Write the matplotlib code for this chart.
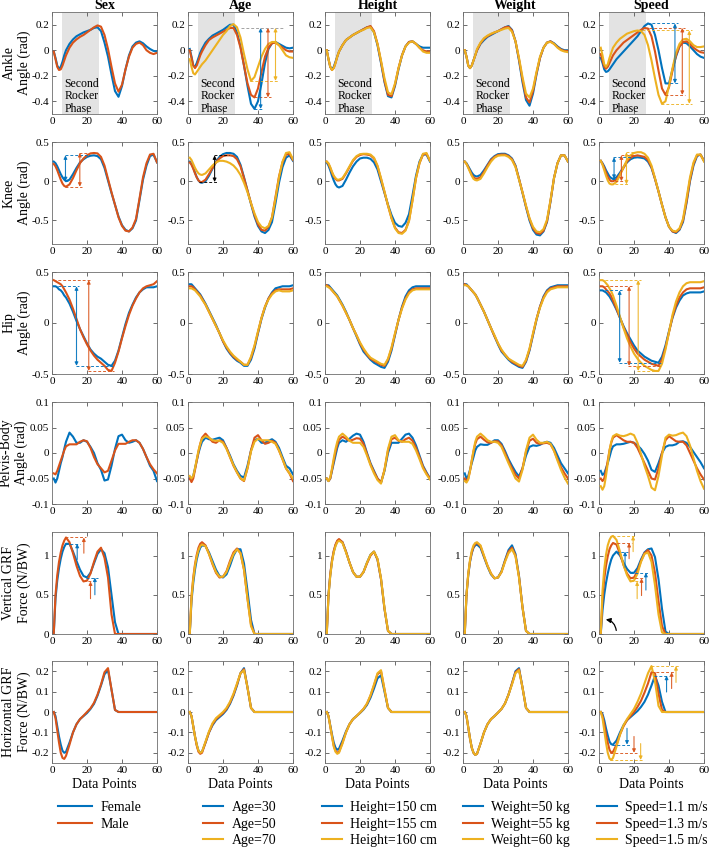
"""
Gait curves (ankle, knee, hip, pelvis angles and ground reaction forces)
grouped by sex, age, height, weight and walking speed.
Writes out.png.
"""

import numpy as np
import matplotlib
matplotlib.use("Agg")
import matplotlib.pyplot as plt
from matplotlib.patches import FancyArrowPatch
from matplotlib.ticker import FuncFormatter

plt.rcParams["font.family"] = ["Liberation Serif", "DejaVu Serif"]
plt.rcParams["axes.unicode_minus"] = False

# sample positions along the gait cycle (data points)
XS = [1, 2, 3, 4, 5, 6, 7, 8,
      10, 12, 14, 16, 18, 20, 22, 24,
      26, 28, 30, 32, 34, 36, 38, 40,
      42, 44, 46, 48, 50, 52, 54, 56, 58, 60]

TITLES = ["Sex", "Age", "Height", "Weight", "Speed"]
GROUP_LABELS = [
    ["Female", "Male"],
    ["Age=30", "Age=50", "Age=70"],
    ["Height=150 cm", "Height=155 cm", "Height=160 cm"],
    ["Weight=50 kg", "Weight=55 kg", "Weight=60 kg"],
    ["Speed=1.1 m/s", "Speed=1.3 m/s", "Speed=1.5 m/s"],
]
ROW_LABELS = ["Ankle\nAngle (rad)", "Knee\nAngle (rad)", "Hip\nAngle (rad)",
              "Pelvis-Body\nAngle (rad)", "Vertical GRF\nForce (N/BW)",
              "Horizontal GRF\nForce (N/BW)"]
ROW_YLIM = [(-0.5, 0.3), (-0.8, 0.5), (-0.5, 0.5), (-0.1, 0.1), (0, 1.3), (-0.25, 0.25)]
ROW_YTICKS = [[-0.4, -0.2, 0, 0.2], [-0.5, 0, 0.5], [-0.5, 0, 0.5],
              [-0.1, -0.05, 0, 0.05, 0.1], [0, 0.5, 1], [-0.2, -0.1, 0, 0.1, 0.2]]

# ---- ankle angle (rad)
ANKLE_SEX = [
    [-0.01, -0.06, -0.12, -0.145, -0.13, -0.09, -0.04, 0.0,
     0.05, 0.085, 0.11, 0.125, 0.14, 0.15, 0.16, 0.175,
     0.18, 0.15, 0.06, -0.05, -0.19, -0.32, -0.365, -0.28,
     -0.15, -0.04, 0.03, 0.06, 0.07, 0.055, 0.03, 0.01, -0.005, -0.01],
    [-0.01, -0.07, -0.13, -0.155, -0.15, -0.12, -0.08, -0.04,
     0.02, 0.06, 0.085, 0.105, 0.12, 0.14, 0.16, 0.18,
     0.195, 0.185, 0.12, 0.01, -0.13, -0.26, -0.325, -0.27,
     -0.15, -0.05, 0.02, 0.05, 0.06, 0.04, 0.0, -0.02, -0.03, -0.02],
]
ANKLE_AGE = [
    [0.01, -0.05, -0.12, -0.13, -0.1, -0.06, -0.02, 0.01,
     0.06, 0.09, 0.115, 0.13, 0.145, 0.16, 0.18, 0.2,
     0.2, 0.14, 0.03, -0.12, -0.28, -0.42, -0.46, -0.4,
     -0.26, -0.1, 0.01, 0.055, 0.065, 0.05, 0.035, 0.02, 0.015, 0.02],
    [0.0, -0.06, -0.12, -0.14, -0.12, -0.08, -0.04, -0.01,
     0.04, 0.08, 0.1, 0.115, 0.13, 0.145, 0.16, 0.175,
     0.175, 0.12, 0.02, -0.12, -0.26, -0.35, -0.37, -0.3,
     -0.17, -0.05, 0.02, 0.055, 0.06, 0.04, 0.02, 0.0, -0.01, -0.01],
    [-0.07, -0.13, -0.18, -0.19, -0.17, -0.15, -0.13, -0.11,
     -0.08, -0.04, 0.0, 0.04, 0.08, 0.12, 0.15, 0.19,
     0.205, 0.18, 0.1, -0.03, -0.15, -0.24, -0.21, -0.13,
     -0.05, 0.01, 0.05, 0.065, 0.065, 0.04, 0.0, -0.04, -0.055, -0.06],
]
ANKLE_HEIGHT = [
    [0.0, -0.07, -0.13, -0.15, -0.13, -0.09, -0.05, -0.01,
     0.04, 0.08, 0.1, 0.12, 0.135, 0.15, 0.165, 0.18,
     0.185, 0.14, 0.04, -0.1, -0.25, -0.36, -0.37, -0.28,
     -0.15, -0.04, 0.03, 0.065, 0.07, 0.05, 0.03, 0.02, 0.02, 0.02],
    [0.0, -0.07, -0.13, -0.155, -0.14, -0.1, -0.05, -0.01,
     0.04, 0.08, 0.1, 0.12, 0.135, 0.15, 0.165, 0.18,
     0.19, 0.15, 0.05, -0.09, -0.24, -0.35, -0.36, -0.27,
     -0.14, -0.04, 0.03, 0.065, 0.07, 0.05, 0.02, 0.0, -0.01, -0.01],
    [0.0, -0.07, -0.13, -0.155, -0.14, -0.1, -0.05, -0.01,
     0.04, 0.08, 0.1, 0.12, 0.135, 0.15, 0.16, 0.175,
     0.18, 0.14, 0.05, -0.08, -0.22, -0.33, -0.345, -0.26,
     -0.14, -0.04, 0.03, 0.06, 0.07, 0.05, 0.02, -0.01, -0.02, -0.02],
]
ANKLE_WEIGHT = [
    [0.0, -0.05, -0.12, -0.14, -0.12, -0.08, -0.04, 0.0,
     0.05, 0.08, 0.105, 0.12, 0.135, 0.15, 0.165, 0.18,
     0.19, 0.16, 0.07, -0.08, -0.25, -0.39, -0.435, -0.34,
     -0.19, -0.06, 0.02, 0.06, 0.07, 0.055, 0.03, 0.01, 0.0, 0.0],
    [0.0, -0.05, -0.12, -0.14, -0.12, -0.08, -0.04, 0.0,
     0.055, 0.09, 0.11, 0.125, 0.14, 0.15, 0.165, 0.18,
     0.185, 0.155, 0.07, -0.07, -0.23, -0.37, -0.41, -0.32,
     -0.18, -0.06, 0.02, 0.06, 0.07, 0.05, 0.025, 0.005, -0.005, -0.005],
    [0.0, -0.05, -0.12, -0.14, -0.12, -0.08, -0.04, 0.01,
     0.06, 0.095, 0.115, 0.13, 0.14, 0.15, 0.16, 0.17,
     0.175, 0.145, 0.07, -0.06, -0.21, -0.34, -0.37, -0.3,
     -0.17, -0.05, 0.02, 0.06, 0.065, 0.05, 0.02, 0.0, -0.01, -0.015],
]
ANKLE_SPEED = [
    [-0.06, -0.1, -0.15, -0.17, -0.165, -0.15, -0.13, -0.11,
     -0.07, -0.04, -0.01, 0.02, 0.05, 0.08, 0.11, 0.15,
     0.19, 0.21, 0.2, 0.12, 0.0, -0.14, -0.26, -0.26,
     -0.15, -0.05, 0.03, 0.06, 0.055, 0.03, 0.0, -0.03, -0.05, -0.06],
    [-0.03, -0.08, -0.13, -0.145, -0.13, -0.1, -0.07, -0.04,
     0.0, 0.03, 0.06, 0.08, 0.1, 0.12, 0.14, 0.16,
     0.175, 0.17, 0.11, -0.01, -0.16, -0.3, -0.35, -0.29,
     -0.16, -0.04, 0.03, 0.065, 0.07, 0.05, 0.02, 0.0, -0.015, -0.02],
    [0.02, -0.04, -0.11, -0.13, -0.11, -0.06, -0.02, 0.02,
     0.06, 0.09, 0.11, 0.13, 0.14, 0.15, 0.155, 0.15,
     0.12, 0.04, -0.08, -0.22, -0.35, -0.42, -0.4, -0.28,
     -0.14, -0.02, 0.05, 0.085, 0.09, 0.07, 0.04, 0.025, 0.025, 0.03],
]

# ---- knee angle (rad)
KNEE_SEX = [
    [0.25, 0.23, 0.19, 0.14, 0.09, 0.05, 0.02, 0.0,
     0.02, 0.09, 0.17, 0.24, 0.28, 0.31, 0.325, 0.33,
     0.32, 0.28, 0.17, 0.01, -0.15, -0.3, -0.45, -0.56,
     -0.62, -0.64, -0.6, -0.5, -0.24, 0.02, 0.2, 0.32, 0.34, 0.24],
    [0.22, 0.19, 0.14, 0.08, 0.02, -0.03, -0.06, -0.07,
     -0.04, 0.04, 0.14, 0.23, 0.29, 0.33, 0.355, 0.36,
     0.355, 0.31, 0.2, 0.03, -0.14, -0.3, -0.46, -0.57,
     -0.63, -0.64, -0.59, -0.48, -0.22, 0.05, 0.23, 0.34, 0.35, 0.24],
]
KNEE_AGE = [
    [0.25, 0.22, 0.17, 0.11, 0.05, 0.01, -0.015, -0.02,
     0.0, 0.07, 0.16, 0.25, 0.31, 0.345, 0.36, 0.36,
     0.35, 0.31, 0.21, 0.05, -0.12, -0.29, -0.45, -0.57,
     -0.64, -0.66, -0.62, -0.52, -0.28, -0.02, 0.18, 0.3, 0.33, 0.26],
    [0.24, 0.21, 0.16, 0.1, 0.05, 0.01, -0.01, -0.01,
     0.02, 0.09, 0.17, 0.24, 0.29, 0.32, 0.33, 0.33,
     0.32, 0.28, 0.19, 0.04, -0.12, -0.28, -0.43, -0.55,
     -0.62, -0.63, -0.58, -0.46, -0.2, 0.06, 0.24, 0.34, 0.35, 0.27],
    [0.3, 0.27, 0.22, 0.17, 0.13, 0.1, 0.085, 0.08,
     0.1, 0.15, 0.2, 0.24, 0.26, 0.26, 0.25, 0.23,
     0.2, 0.15, 0.08, -0.02, -0.14, -0.28, -0.41, -0.52,
     -0.58, -0.6, -0.57, -0.46, -0.22, 0.05, 0.25, 0.36, 0.37, 0.28],
]
KNEE_HEIGHT = [
    [0.24, 0.2, 0.14, 0.07, 0.01, -0.04, -0.07, -0.08,
     -0.06, 0.02, 0.11, 0.19, 0.25, 0.29, 0.3, 0.3,
     0.285, 0.24, 0.15, 0.0, -0.15, -0.3, -0.43, -0.53,
     -0.57, -0.58, -0.53, -0.42, -0.18, 0.07, 0.25, 0.34, 0.34, 0.25],
    [0.25, 0.22, 0.17, 0.11, 0.06, 0.03, 0.01, 0.01,
     0.03, 0.1, 0.18, 0.26, 0.31, 0.335, 0.345, 0.34,
     0.33, 0.29, 0.19, 0.03, -0.14, -0.31, -0.47, -0.59,
     -0.65, -0.66, -0.62, -0.5, -0.24, 0.04, 0.23, 0.34, 0.35, 0.26],
    [0.25, 0.23, 0.18, 0.12, 0.07, 0.04, 0.02, 0.02,
     0.04, 0.11, 0.19, 0.27, 0.32, 0.345, 0.35, 0.35,
     0.34, 0.3, 0.2, 0.04, -0.13, -0.31, -0.47, -0.6,
     -0.66, -0.67, -0.63, -0.51, -0.25, 0.04, 0.23, 0.35, 0.36, 0.26],
]
KNEE_WEIGHT = [
    [0.25, 0.23, 0.19, 0.15, 0.11, 0.08, 0.065, 0.06,
     0.08, 0.14, 0.21, 0.28, 0.32, 0.345, 0.35, 0.35,
     0.33, 0.29, 0.2, 0.03, -0.15, -0.33, -0.5, -0.62,
     -0.68, -0.69, -0.64, -0.52, -0.26, 0.04, 0.23, 0.33, 0.33, 0.25],
    [0.25, 0.22, 0.18, 0.13, 0.08, 0.05, 0.035, 0.03,
     0.05, 0.12, 0.2, 0.27, 0.31, 0.335, 0.34, 0.34,
     0.32, 0.28, 0.19, 0.03, -0.14, -0.32, -0.48, -0.6,
     -0.66, -0.67, -0.63, -0.51, -0.25, 0.04, 0.23, 0.33, 0.33, 0.25],
    [0.25, 0.22, 0.17, 0.12, 0.07, 0.03, 0.015, 0.01,
     0.03, 0.1, 0.18, 0.25, 0.3, 0.325, 0.33, 0.33,
     0.31, 0.27, 0.18, 0.02, -0.14, -0.31, -0.47, -0.58,
     -0.64, -0.65, -0.61, -0.49, -0.24, 0.04, 0.23, 0.33, 0.33, 0.25],
]
KNEE_SPEED = [
    [0.26, 0.23, 0.19, 0.14, 0.1, 0.06, 0.04, 0.03,
     0.05, 0.11, 0.18, 0.24, 0.28, 0.3, 0.305, 0.3,
     0.29, 0.25, 0.17, 0.03, -0.13, -0.3, -0.46, -0.58,
     -0.64, -0.66, -0.62, -0.52, -0.28, 0.0, 0.2, 0.32, 0.34, 0.26],
    [0.26, 0.22, 0.17, 0.11, 0.06, 0.02, 0.0, 0.0,
     0.02, 0.09, 0.17, 0.25, 0.3, 0.32, 0.33, 0.32,
     0.31, 0.27, 0.18, 0.03, -0.13, -0.3, -0.46, -0.58,
     -0.64, -0.65, -0.61, -0.5, -0.26, 0.02, 0.22, 0.33, 0.34, 0.26],
    [0.26, 0.21, 0.14, 0.07, 0.01, -0.03, -0.04, -0.04,
     -0.01, 0.08, 0.18, 0.27, 0.33, 0.36, 0.37, 0.37,
     0.35, 0.3, 0.2, 0.04, -0.13, -0.3, -0.46, -0.58,
     -0.63, -0.64, -0.6, -0.48, -0.22, 0.05, 0.24, 0.34, 0.34, 0.25],
]

# ---- hip angle (rad)
HIP_SEX = [
    [0.36, 0.36, 0.35, 0.33, 0.32, 0.3, 0.27, 0.25,
     0.19, 0.11, 0.02, -0.06, -0.13, -0.2, -0.26, -0.3,
     -0.33, -0.35, -0.38, -0.41, -0.42, -0.37, -0.27, -0.14,
     -0.01, 0.1, 0.18, 0.25, 0.3, 0.33, 0.35, 0.35, 0.35, 0.36],
    [0.42, 0.41, 0.4, 0.39, 0.38, 0.36, 0.33, 0.3,
     0.23, 0.14, 0.04, -0.06, -0.14, -0.21, -0.27, -0.32,
     -0.36, -0.39, -0.42, -0.46, -0.47, -0.39, -0.28, -0.15,
     -0.03, 0.08, 0.17, 0.24, 0.3, 0.34, 0.36, 0.37, 0.38, 0.41],
]
HIP_AGE = [
    [0.38, 0.38, 0.36, 0.34, 0.32, 0.3, 0.28, 0.25,
     0.19, 0.12, 0.05, -0.02, -0.1, -0.18, -0.25, -0.3,
     -0.34, -0.37, -0.39, -0.42, -0.42, -0.36, -0.25, -0.1,
     0.04, 0.15, 0.24, 0.3, 0.34, 0.35, 0.36, 0.36, 0.36, 0.37],
    [0.36, 0.36, 0.35, 0.33, 0.31, 0.29, 0.27, 0.24,
     0.18, 0.11, 0.04, -0.03, -0.1, -0.18, -0.24, -0.29,
     -0.33, -0.36, -0.38, -0.41, -0.41, -0.34, -0.23, -0.09,
     0.05, 0.16, 0.24, 0.29, 0.32, 0.33, 0.33, 0.33, 0.33, 0.34],
    [0.34, 0.34, 0.33, 0.32, 0.3, 0.28, 0.26, 0.23,
     0.18, 0.11, 0.04, -0.03, -0.1, -0.17, -0.23, -0.28,
     -0.32, -0.35, -0.38, -0.41, -0.41, -0.33, -0.22, -0.08,
     0.05, 0.16, 0.23, 0.28, 0.31, 0.32, 0.31, 0.31, 0.31, 0.32],
]
HIP_HEIGHT = [
    [0.37, 0.37, 0.35, 0.33, 0.31, 0.29, 0.27, 0.24,
     0.18, 0.11, 0.03, -0.05, -0.13, -0.21, -0.28, -0.32,
     -0.36, -0.39, -0.41, -0.43, -0.44, -0.38, -0.27, -0.12,
     0.03, 0.16, 0.26, 0.32, 0.35, 0.36, 0.36, 0.36, 0.36, 0.36],
    [0.37, 0.36, 0.34, 0.32, 0.3, 0.28, 0.26, 0.23,
     0.17, 0.1, 0.03, -0.05, -0.12, -0.2, -0.26, -0.31,
     -0.35, -0.37, -0.39, -0.41, -0.42, -0.36, -0.25, -0.11,
     0.03, 0.15, 0.24, 0.3, 0.33, 0.34, 0.34, 0.34, 0.34, 0.34],
    [0.36, 0.35, 0.34, 0.32, 0.3, 0.28, 0.26, 0.23,
     0.17, 0.1, 0.03, -0.05, -0.12, -0.19, -0.25, -0.3,
     -0.34, -0.36, -0.38, -0.4, -0.41, -0.35, -0.24, -0.1,
     0.03, 0.14, 0.23, 0.29, 0.32, 0.33, 0.33, 0.33, 0.33, 0.33],
]
HIP_WEIGHT = [
    [0.38, 0.38, 0.36, 0.34, 0.32, 0.3, 0.28, 0.25,
     0.18, 0.11, 0.03, -0.05, -0.13, -0.21, -0.28, -0.32,
     -0.36, -0.39, -0.41, -0.43, -0.44, -0.38, -0.27, -0.12,
     0.03, 0.16, 0.26, 0.32, 0.35, 0.36, 0.37, 0.37, 0.37, 0.37],
    [0.38, 0.37, 0.36, 0.34, 0.32, 0.3, 0.28, 0.25,
     0.18, 0.11, 0.03, -0.05, -0.13, -0.2, -0.27, -0.31,
     -0.35, -0.38, -0.4, -0.42, -0.43, -0.37, -0.26, -0.11,
     0.04, 0.16, 0.25, 0.31, 0.34, 0.35, 0.36, 0.36, 0.36, 0.36],
    [0.37, 0.37, 0.36, 0.34, 0.32, 0.3, 0.28, 0.25,
     0.18, 0.11, 0.03, -0.05, -0.12, -0.2, -0.26, -0.31,
     -0.35, -0.37, -0.39, -0.41, -0.42, -0.36, -0.25, -0.1,
     0.04, 0.15, 0.24, 0.3, 0.33, 0.34, 0.35, 0.35, 0.35, 0.35],
]
HIP_SPEED = [
    [0.32, 0.32, 0.31, 0.3, 0.28, 0.26, 0.23, 0.2,
     0.13, 0.05, -0.03, -0.1, -0.16, -0.22, -0.27, -0.3,
     -0.33, -0.35, -0.37, -0.38, -0.39, -0.33, -0.22, -0.08,
     0.05, 0.15, 0.22, 0.27, 0.29, 0.3, 0.3, 0.3, 0.3, 0.31],
    [0.36, 0.36, 0.35, 0.33, 0.31, 0.29, 0.26, 0.22,
     0.14, 0.05, -0.04, -0.12, -0.19, -0.25, -0.3, -0.33,
     -0.36, -0.38, -0.4, -0.41, -0.42, -0.36, -0.24, -0.09,
     0.06, 0.17, 0.25, 0.3, 0.33, 0.34, 0.34, 0.34, 0.34, 0.35],
    [0.42, 0.42, 0.41, 0.39, 0.37, 0.34, 0.31, 0.27,
     0.17, 0.06, -0.05, -0.15, -0.23, -0.3, -0.35, -0.39,
     -0.42, -0.44, -0.46, -0.47, -0.47, -0.4, -0.26, -0.09,
     0.08, 0.21, 0.3, 0.36, 0.39, 0.4, 0.4, 0.4, 0.4, 0.41],
]

# ---- pelvis-body angle (rad)
PELVIS_SEX = [
    [-0.05, -0.058, -0.05, -0.035, -0.02, -0.008, 0.008, 0.022,
     0.04, 0.032, 0.02, 0.02, 0.025, 0.022, 0.012, 0.0,
     -0.02, -0.033, -0.054, -0.052, -0.025, 0.008, 0.033, 0.036,
     0.025, 0.02, 0.022, 0.025, 0.02, 0.008, -0.008, -0.025, -0.035, -0.055],
    [-0.04, -0.042, -0.035, -0.025, -0.015, -0.005, 0.005, 0.013,
     0.017, 0.017, 0.017, 0.022, 0.025, 0.023, 0.01, -0.008,
     -0.022, -0.03, -0.038, -0.035, -0.015, 0.005, 0.018, 0.018,
     0.018, 0.022, 0.025, 0.025, 0.02, 0.008, -0.008, -0.022, -0.032, -0.04],
]
PELVIS_AGE = [
    [-0.05, -0.052, -0.045, -0.03, -0.015, 0.0, 0.012, 0.022,
     0.03, 0.027, 0.026, 0.028, 0.03, 0.025, 0.01, -0.005,
     -0.022, -0.035, -0.045, -0.048, -0.025, 0.005, 0.025, 0.028,
     0.02, 0.02, 0.024, 0.027, 0.022, 0.01, -0.008, -0.025, -0.03, -0.042],
    [-0.05, -0.057, -0.05, -0.033, -0.015, 0.003, 0.018, 0.03,
     0.038, 0.03, 0.022, 0.02, 0.025, 0.022, 0.01, -0.008,
     -0.025, -0.038, -0.05, -0.055, -0.03, 0.005, 0.03, 0.035,
     0.025, 0.018, 0.02, 0.024, 0.02, 0.005, -0.012, -0.03, -0.04, -0.055],
    [-0.045, -0.05, -0.045, -0.03, -0.012, 0.005, 0.018, 0.028,
     0.033, 0.03, 0.025, 0.024, 0.024, 0.02, 0.008, -0.008,
     -0.024, -0.038, -0.05, -0.054, -0.03, 0.003, 0.022, 0.028,
     0.025, 0.025, 0.025, 0.022, 0.018, 0.005, -0.012, -0.03, -0.04, -0.05],
]
PELVIS_HEIGHT = [
    [-0.05, -0.055, -0.05, -0.035, -0.02, -0.005, 0.01, 0.02,
     0.025, 0.022, 0.028, 0.034, 0.038, 0.036, 0.022, 0.0,
     -0.02, -0.035, -0.05, -0.058, -0.035, 0.0, 0.02, 0.02,
     0.02, 0.028, 0.036, 0.038, 0.03, 0.015, -0.005, -0.025, -0.038, -0.05],
    [-0.05, -0.055, -0.05, -0.033, -0.015, 0.002, 0.016, 0.026,
     0.032, 0.028, 0.024, 0.026, 0.029, 0.028, 0.018, -0.002,
     -0.022, -0.037, -0.05, -0.058, -0.033, 0.005, 0.027, 0.03,
     0.024, 0.022, 0.027, 0.03, 0.024, 0.01, -0.008, -0.027, -0.04, -0.05],
    [-0.05, -0.055, -0.048, -0.03, -0.01, 0.008, 0.022, 0.032,
     0.038, 0.032, 0.024, 0.02, 0.02, 0.02, 0.012, -0.005,
     -0.024, -0.04, -0.053, -0.06, -0.033, 0.008, 0.032, 0.035,
     0.025, 0.022, 0.022, 0.022, 0.018, 0.005, -0.012, -0.03, -0.042, -0.052],
]
PELVIS_WEIGHT = [
    [-0.04, -0.05, -0.045, -0.033, -0.02, -0.008, 0.005, 0.012,
     0.017, 0.016, 0.016, 0.02, 0.025, 0.025, 0.018, 0.004,
     -0.012, -0.025, -0.037, -0.046, -0.03, -0.005, 0.012, 0.015,
     0.014, 0.016, 0.02, 0.022, 0.02, 0.01, -0.005, -0.02, -0.03, -0.04],
    [-0.05, -0.055, -0.05, -0.035, -0.015, 0.003, 0.018, 0.027,
     0.032, 0.026, 0.021, 0.02, 0.023, 0.023, 0.015, 0.0,
     -0.016, -0.03, -0.043, -0.05, -0.03, 0.003, 0.024, 0.028,
     0.02, 0.018, 0.019, 0.02, 0.017, 0.005, -0.012, -0.028, -0.04, -0.05],
    [-0.055, -0.058, -0.052, -0.035, -0.015, 0.005, 0.022, 0.032,
     0.038, 0.032, 0.025, 0.022, 0.022, 0.02, 0.012, -0.004,
     -0.02, -0.035, -0.05, -0.056, -0.033, 0.005, 0.03, 0.036,
     0.026, 0.02, 0.02, 0.022, 0.018, 0.004, -0.015, -0.033, -0.048, -0.06],
]
PELVIS_SPEED = [
    [-0.035, -0.043, -0.04, -0.03, -0.02, -0.008, 0.005, 0.013,
     0.017, 0.017, 0.018, 0.02, 0.022, 0.02, 0.015, 0.008,
     -0.002, -0.015, -0.033, -0.037, -0.02, 0.0, 0.012, 0.015,
     0.015, 0.017, 0.022, 0.023, 0.02, 0.012, 0.002, -0.008, -0.018, -0.03],
    [-0.05, -0.055, -0.05, -0.035, -0.015, 0.005, 0.02, 0.03,
     0.035, 0.03, 0.025, 0.022, 0.022, 0.02, 0.01, -0.005,
     -0.02, -0.035, -0.05, -0.052, -0.03, 0.0, 0.025, 0.033,
     0.028, 0.023, 0.022, 0.022, 0.015, 0.0, -0.015, -0.03, -0.042, -0.052],
    [-0.065, -0.072, -0.065, -0.045, -0.02, 0.005, 0.022, 0.033,
     0.037, 0.034, 0.033, 0.035, 0.038, 0.035, 0.02, -0.002,
     -0.025, -0.045, -0.068, -0.073, -0.045, -0.005, 0.03, 0.036,
     0.034, 0.035, 0.038, 0.04, 0.033, 0.015, -0.01, -0.035, -0.055, -0.07],
]

# ---- vertical ground reaction force (N/BW)
VGRF_SEX = [
    [0.0, 0.45, 0.68, 0.84, 0.96, 1.05, 1.11, 1.15,
     1.15, 1.05, 0.93, 0.82, 0.74, 0.72, 0.78, 0.9,
     1.02, 1.08, 1.03, 0.85, 0.5, 0.15, 0.0, 0.0,
     0, 0, 0, 0, 0, 0, 0, 0, 0, 0],
    [0.0, 0.5, 0.75, 0.92, 1.04, 1.13, 1.19, 1.23,
     1.17, 1.03, 0.87, 0.74, 0.67, 0.68, 0.77, 0.92,
     1.05, 1.1, 0.97, 0.72, 0.25, 0.0, 0.0, 0.0,
     0, 0, 0, 0, 0, 0, 0, 0, 0, 0],
]
VGRF_AGE = [
    [0.0, 0.42, 0.65, 0.82, 0.95, 1.04, 1.1, 1.13,
     1.12, 1.04, 0.93, 0.82, 0.74, 0.72, 0.76, 0.87,
     1.0, 1.08, 1.08, 0.9, 0.55, 0.18, 0.0, 0.0,
     0, 0, 0, 0, 0, 0, 0, 0, 0, 0],
    [0.0, 0.48, 0.72, 0.89, 1.01, 1.1, 1.15, 1.17,
     1.13, 1.02, 0.89, 0.78, 0.72, 0.73, 0.8, 0.93,
     1.04, 1.09, 1.03, 0.82, 0.45, 0.12, 0.0, 0.0,
     0, 0, 0, 0, 0, 0, 0, 0, 0, 0],
    [0.0, 0.46, 0.7, 0.87, 0.99, 1.07, 1.12, 1.14,
     1.12, 1.02, 0.9, 0.79, 0.73, 0.73, 0.79, 0.91,
     1.02, 1.08, 1.03, 0.82, 0.45, 0.1, 0.0, 0.0,
     0, 0, 0, 0, 0, 0, 0, 0, 0, 0],
]
VGRF_HEIGHT = [
    [0.0, 0.5, 0.75, 0.93, 1.05, 1.13, 1.18, 1.2,
     1.17, 1.05, 0.91, 0.79, 0.73, 0.73, 0.79, 0.91,
     1.01, 1.05, 0.95, 0.7, 0.32, 0.04, 0.0, 0.0,
     0, 0, 0, 0, 0, 0, 0, 0, 0, 0],
    [0.0, 0.5, 0.76, 0.94, 1.06, 1.14, 1.19, 1.21,
     1.17, 1.05, 0.91, 0.79, 0.73, 0.73, 0.79, 0.9,
     1.0, 1.05, 0.95, 0.7, 0.32, 0.04, 0.0, 0.0,
     0, 0, 0, 0, 0, 0, 0, 0, 0, 0],
    [0.0, 0.49, 0.74, 0.92, 1.04, 1.12, 1.17, 1.19,
     1.16, 1.04, 0.91, 0.79, 0.73, 0.73, 0.79, 0.91,
     1.01, 1.05, 0.96, 0.71, 0.33, 0.04, 0.0, 0.0,
     0, 0, 0, 0, 0, 0, 0, 0, 0, 0],
]
VGRF_WEIGHT = [
    [0.0, 0.5, 0.75, 0.92, 1.03, 1.1, 1.13, 1.14,
     1.1, 0.98, 0.86, 0.76, 0.71, 0.72, 0.8, 0.94,
     1.07, 1.13, 1.02, 0.74, 0.34, 0.04, 0.0, 0.0,
     0, 0, 0, 0, 0, 0, 0, 0, 0, 0],
    [0.0, 0.5, 0.76, 0.93, 1.04, 1.11, 1.15, 1.16,
     1.12, 0.99, 0.87, 0.77, 0.71, 0.72, 0.79, 0.93,
     1.05, 1.1, 1.0, 0.73, 0.34, 0.04, 0.0, 0.0,
     0, 0, 0, 0, 0, 0, 0, 0, 0, 0],
    [0.0, 0.51, 0.77, 0.94, 1.06, 1.13, 1.16, 1.17,
     1.13, 1.0, 0.87, 0.77, 0.71, 0.72, 0.79, 0.92,
     1.03, 1.08, 0.99, 0.72, 0.34, 0.04, 0.0, 0.0,
     0, 0, 0, 0, 0, 0, 0, 0, 0, 0],
]
VGRF_SPEED = [
    [0.0, 0.3, 0.5, 0.65, 0.77, 0.87, 0.95, 1.0,
     1.05, 1.0, 0.91, 0.83, 0.78, 0.78, 0.84, 0.95,
     1.04, 1.08, 1.09, 0.98, 0.7, 0.32, 0.03, 0.0,
     0, 0, 0, 0, 0, 0, 0, 0, 0, 0],
    [0.0, 0.45, 0.7, 0.87, 0.99, 1.08, 1.13, 1.16,
     1.14, 1.02, 0.88, 0.77, 0.71, 0.72, 0.8, 0.93,
     1.03, 1.07, 1.0, 0.78, 0.42, 0.1, 0.0, 0.0,
     0, 0, 0, 0, 0, 0, 0, 0, 0, 0],
    [0.0, 0.55, 0.83, 1.01, 1.13, 1.2, 1.24, 1.25,
     1.2, 1.05, 0.88, 0.75, 0.67, 0.68, 0.77, 0.92,
     1.02, 1.04, 0.92, 0.62, 0.25, 0.02, 0.0, 0.0,
     0, 0, 0, 0, 0, 0, 0, 0, 0, 0],
]

# ---- horizontal ground reaction force (N/BW)
HGRF_SEX = [
    [0.0, -0.02, -0.07, -0.12, -0.16, -0.19, -0.2, -0.195,
     -0.15, -0.1, -0.06, -0.035, -0.02, -0.005, 0.015, 0.04,
     0.08, 0.13, 0.185, 0.205, 0.11, 0.01, 0.0, 0.0,
     0, 0, 0, 0, 0, 0, 0, 0, 0, 0],
    [0.0, -0.03, -0.09, -0.15, -0.2, -0.225, -0.23, -0.215,
     -0.16, -0.1, -0.06, -0.035, -0.018, 0.0, 0.018, 0.045,
     0.085, 0.135, 0.195, 0.215, 0.11, 0.01, 0.0, 0.0,
     0, 0, 0, 0, 0, 0, 0, 0, 0, 0],
]
HGRF_AGE = [
    [0.0, -0.02, -0.07, -0.12, -0.16, -0.19, -0.2, -0.195,
     -0.15, -0.1, -0.065, -0.04, -0.025, -0.01, 0.01, 0.04,
     0.08, 0.13, 0.19, 0.215, 0.12, 0.02, 0.0, 0.0,
     0, 0, 0, 0, 0, 0, 0, 0, 0, 0],
    [0.0, -0.02, -0.07, -0.12, -0.165, -0.195, -0.205, -0.2,
     -0.15, -0.1, -0.06, -0.035, -0.02, -0.005, 0.015, 0.045,
     0.085, 0.135, 0.19, 0.21, 0.12, 0.02, 0.0, 0.0,
     0, 0, 0, 0, 0, 0, 0, 0, 0, 0],
    [0.0, -0.02, -0.07, -0.12, -0.16, -0.19, -0.2, -0.195,
     -0.145, -0.095, -0.055, -0.03, -0.015, 0.0, 0.02, 0.05,
     0.09, 0.14, 0.19, 0.205, 0.12, 0.02, 0.0, 0.0,
     0, 0, 0, 0, 0, 0, 0, 0, 0, 0],
]
HGRF_HEIGHT = [
    [0.0, -0.02, -0.065, -0.11, -0.15, -0.175, -0.185, -0.18,
     -0.14, -0.095, -0.06, -0.035, -0.02, -0.005, 0.012, 0.035,
     0.07, 0.115, 0.165, 0.18, 0.1, 0.02, 0.0, 0.0,
     0, 0, 0, 0, 0, 0, 0, 0, 0, 0],
    [0.0, -0.02, -0.07, -0.12, -0.165, -0.19, -0.2, -0.195,
     -0.15, -0.1, -0.06, -0.035, -0.02, -0.003, 0.015, 0.04,
     0.08, 0.13, 0.185, 0.2, 0.11, 0.02, 0.0, 0.0,
     0, 0, 0, 0, 0, 0, 0, 0, 0, 0],
    [0.0, -0.02, -0.07, -0.12, -0.17, -0.195, -0.205, -0.2,
     -0.155, -0.1, -0.06, -0.035, -0.02, -0.003, 0.015, 0.042,
     0.082, 0.135, 0.19, 0.205, 0.11, 0.02, 0.0, 0.0,
     0, 0, 0, 0, 0, 0, 0, 0, 0, 0],
]
HGRF_WEIGHT = [
    [0.0, -0.02, -0.075, -0.13, -0.175, -0.2, -0.21, -0.205,
     -0.155, -0.1, -0.06, -0.035, -0.02, -0.003, 0.015, 0.042,
     0.085, 0.14, 0.2, 0.215, 0.12, 0.02, 0.0, 0.0,
     0, 0, 0, 0, 0, 0, 0, 0, 0, 0],
    [0.0, -0.02, -0.075, -0.13, -0.175, -0.2, -0.21, -0.205,
     -0.155, -0.1, -0.06, -0.035, -0.02, -0.003, 0.015, 0.042,
     0.085, 0.14, 0.195, 0.21, 0.12, 0.02, 0.0, 0.0,
     0, 0, 0, 0, 0, 0, 0, 0, 0, 0],
    [0.0, -0.02, -0.075, -0.13, -0.175, -0.2, -0.21, -0.205,
     -0.155, -0.1, -0.06, -0.035, -0.02, -0.003, 0.015, 0.042,
     0.085, 0.135, 0.19, 0.205, 0.12, 0.02, 0.0, 0.0,
     0, 0, 0, 0, 0, 0, 0, 0, 0, 0],
]
HGRF_SPEED = [
    [0.0, -0.01, -0.04, -0.08, -0.115, -0.145, -0.158, -0.16,
     -0.14, -0.1, -0.065, -0.04, -0.025, -0.01, 0.005, 0.025,
     0.05, 0.085, 0.13, 0.178, 0.13, 0.05, 0.0, 0.0,
     0, 0, 0, 0, 0, 0, 0, 0, 0, 0],
    [0.0, -0.02, -0.06, -0.11, -0.15, -0.185, -0.2, -0.195,
     -0.16, -0.11, -0.07, -0.04, -0.02, 0.0, 0.025, 0.055,
     0.095, 0.14, 0.195, 0.19, 0.09, 0.01, 0.0, 0.0,
     0, 0, 0, 0, 0, 0, 0, 0, 0, 0],
    [0.0, -0.03, -0.09, -0.15, -0.2, -0.228, -0.235, -0.225,
     -0.17, -0.11, -0.065, -0.035, -0.01, 0.015, 0.05, 0.09,
     0.14, 0.19, 0.225, 0.15, 0.03, 0.0, 0.0, 0.0,
     0, 0, 0, 0, 0, 0, 0, 0, 0, 0],
]

PANELS = [
    [ANKLE_SEX, ANKLE_AGE, ANKLE_HEIGHT, ANKLE_WEIGHT, ANKLE_SPEED],
    [KNEE_SEX, KNEE_AGE, KNEE_HEIGHT, KNEE_WEIGHT, KNEE_SPEED],
    [HIP_SEX, HIP_AGE, HIP_HEIGHT, HIP_WEIGHT, HIP_SPEED],
    [PELVIS_SEX, PELVIS_AGE, PELVIS_HEIGHT, PELVIS_WEIGHT, PELVIS_SPEED],
    [VGRF_SEX, VGRF_AGE, VGRF_HEIGHT, VGRF_WEIGHT, VGRF_SPEED],
    [HGRF_SEX, HGRF_AGE, HGRF_HEIGHT, HGRF_WEIGHT, HGRF_SPEED],
]

COLORS = ["#0072BD", "#D95319", "#EDB120"]
ROCKER_PHASE = (5.5, 27)

# layout in pixels
W, H = 709, 848
COL_LEFT = [52, 188, 325, 463, 599]
ROW_TOP = [12, 142, 272, 402, 532, 661]
AX_W, AX_H = 105, 102
YLABEL_X = [-0.2, -0.2, -0.2, -0.225, -0.2, -0.2]
LEGEND_X = [0.057, 0.143, -0.03, 0.0, -0.02]
LEGEND_HANDLE = [2.45, 1.45, 1.45, 1.45, 1.45]

XA = np.array(XS, dtype=float)


def extreme(series, lo, hi, kind):
    ys = np.array(series, dtype=float)
    idx = np.where((XA >= lo) & (XA <= hi))[0]
    j = idx[np.argmax(ys[idx])] if kind == "max" else idx[np.argmin(ys[idx])]
    return XA[j], ys[j]


def dash(ax, xa, xb, y, color):
    lo, hi = min(xa, xb), max(xa, xb)
    ax.plot([lo - 0.5, hi + 1.5], [y, y], color=color, lw=0.7,
            ls=(0, (3, 2)), alpha=0.9, zorder=4)


def arrow(ax, x, y_from, y_to, color, both=False):
    ax.annotate("", xy=(x, y_to), xytext=(x, y_from),
                arrowprops=dict(arrowstyle="<|-|>" if both else "-|>",
                                color=color, lw=0.8, mutation_scale=5,
                                shrinkA=0, shrinkB=0, alpha=0.9), zorder=5)


def span(ax, x, top, bottom, color):
    arrow(ax, x, bottom[1], top[1], color, both=True)
    dash(ax, top[0], x, top[1], color)
    dash(ax, bottom[0], x, bottom[1], color)


fig = plt.figure(figsize=(W / 100, H / 100), dpi=100)
fmt = FuncFormatter(lambda v, p: f"{round(v, 3):g}")

axes = []
for r, top in enumerate(ROW_TOP):
    row_axes = []
    for c, left in enumerate(COL_LEFT):
        ax = fig.add_axes([left / W, 1 - (top + AX_H) / H, AX_W / W, AX_H / H])
        if r == 0:
            ax.axvspan(*ROCKER_PHASE, color="#e3e3e3", lw=0, zorder=0)
            ax.text(7, -0.215, "Second\nRocker\nPhase", fontsize=8.5,
                    va="top", ha="left", linespacing=1.05)
        for i, ys in enumerate(PANELS[r][c]):
            ax.plot(XS, ys, color=COLORS[i], lw=1.5, label=GROUP_LABELS[c][i], zorder=3)
        ax.set_xlim(0, 60)
        ax.set_xticks([0, 20, 40, 60])
        ax.set_ylim(*ROW_YLIM[r])
        ax.set_yticks(ROW_YTICKS[r])
        ax.yaxis.set_major_formatter(fmt)
        ax.tick_params(direction="in", top=True, right=True, length=3, width=0.6,
                       labelsize=8, pad=2, color="#555555")
        for sp in ax.spines.values():
            sp.set_color("#6e6e6e")
            sp.set_linewidth(0.6)
        if r == 0:
            ax.set_title(TITLES[c], fontweight="bold", fontsize=10, pad=2)
        if c == 0:
            ax.set_ylabel(ROW_LABELS[r], fontsize=10, linespacing=1.2)
            ax.yaxis.set_label_coords(YLABEL_X[r], 0.5)
        if r == len(ROW_TOP) - 1:
            ax.set_xlabel("Data Points", fontsize=10, labelpad=2)
            ax.legend(loc="upper left", bbox_to_anchor=(LEGEND_X[c], -0.375),
                      frameon=False, fontsize=10, handlelength=LEGEND_HANDLE[c],
                      handletextpad=0.6, labelspacing=0.25, borderaxespad=0,
                      borderpad=0)
        row_axes.append(ax)
    axes.append(row_axes)

# ankle / age: common top line, arrows down to each trough
ax = axes[0][1]
top_y = extreme(ANKLE_AGE[1], 15, 32, "max")[1]
dash(ax, 30.5, 52.5, top_y, "#999999")
for i, x in enumerate([41.5, 45.7, 50.0]):
    bx, by = extreme(ANKLE_AGE[i], 30, 45, "min")
    arrow(ax, x, top_y, by, COLORS[i], both=True)
    dash(ax, bx, x, by, COLORS[i])

# ankle / speed
for i, x in enumerate([43.4, 47.6, 51.6]):
    span(axes[0][4], x, extreme(ANKLE_SPEED[i], 15, 33, "max"),
         extreme(ANKLE_SPEED[i], 30, 45, "min"), COLORS[i])

# knee loading response
for i, x in enumerate([7.7, 15.9]):
    span(axes[1][0], x, extreme(KNEE_SEX[i], 15, 30, "max"),
         extreme(KNEE_SEX[i], 0, 15, "min"), COLORS[i])
span(axes[1][1], 15.2, extreme(KNEE_AGE[1], 15, 22, "max"),
     extreme(KNEE_AGE[1], 0, 15, "min"), "black")
for i, x in enumerate([8.6, 12.8, 15.7]):
    span(axes[1][4], x, extreme(KNEE_SPEED[i], 15, 30, "max"),
         extreme(KNEE_SPEED[i], 0, 15, "min"), COLORS[i])

# hip range of motion
for i, x in enumerate([14.0, 21.0]):
    span(axes[2][0], x, extreme(HIP_SEX[i], 0, 10, "max"),
         extreme(HIP_SEX[i], 25, 40, "min"), COLORS[i])
for i, x in enumerate([11.8, 17.2, 22.4]):
    span(axes[2][4], x, extreme(HIP_SPEED[i], 0, 10, "max"),
         extreme(HIP_SPEED[i], 25, 40, "min"), COLORS[i])

# vertical GRF peaks and valleys
for panel, ax, peak_x, valley_x in [
        (VGRF_SEX, axes[4][0], [14.4, 18.2], [24.5, 22.0]),
        (VGRF_SPEED, axes[4][4], [14.9, 17.2, 19.5], [26.8, 24.3, 21.8])]:
    for i, ys in enumerate(panel):
        px, py = extreme(ys, 0, 14, "max")
        arrow(ax, peak_x[i], py - 0.2, py, COLORS[i])
        dash(ax, px, peak_x[i], py, COLORS[i])
        vx, vy = extreme(ys, 12, 24, "min")
        arrow(ax, valley_x[i], vy - 0.22, vy, COLORS[i])
        dash(ax, vx, valley_x[i], vy, COLORS[i])
axes[4][4].add_patch(FancyArrowPatch((10, 0.01), (2.3, 0.19),
                                     connectionstyle="arc3,rad=0.45",
                                     arrowstyle="-|>", mutation_scale=7,
                                     color="black", lw=0.9, zorder=5))

# horizontal GRF / speed
ax = axes[5][4]
for i, ys in enumerate(HGRF_SPEED):
    tx, ty = extreme(ys, 0, 15, "min")
    x = [16.0, 20.0, 23.8][i]
    arrow(ax, x, ty + 0.08, ty, COLORS[i])
    dash(ax, tx, x, ty, COLORS[i])
    px, py = extreme(ys, 20, 40, "max")
    x = [38.6, 41.5, 44.0][i]
    arrow(ax, x, py - 0.08, py, COLORS[i])
    dash(ax, px, x, py, COLORS[i])

fig.savefig("out.png", dpi=100)
